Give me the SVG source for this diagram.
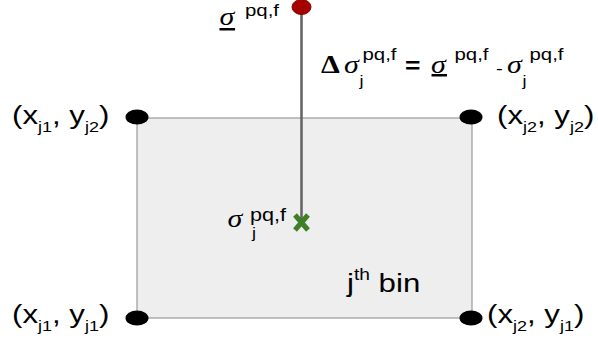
<svg xmlns="http://www.w3.org/2000/svg" width="598" height="347" viewBox="0 0 598 347">
<style>
  text { font-family: "Liberation Sans", Arial, sans-serif; fill: #000; }
  .lbl { font-size: 26px; }
  .sub { font-size: 15px; }
  .sup { font-size: 17px; }
  .sig { font-family: "Liberation Serif", "Times New Roman", serif; font-style: italic; font-size: 25px; }
  .delta { font-family: "Liberation Serif", "Times New Roman", serif; font-weight: bold; font-size: 25px; }
  .corner { fill: #000; }
  .ul { fill: #000; }
</style>
<rect id="bin" x="137" y="118" width="335" height="200" fill="#eeeeee" stroke="#999999" stroke-width="1.2"/>

<g id="connectors">
  <line x1="301.5" y1="8" x2="301.5" y2="222" stroke="#666666" stroke-width="2.6"/>
</g>

<g id="node-sigma-bar">
  <ellipse cx="301.5" cy="7" rx="9.5" ry="7.5" fill="#a50000" stroke="#8a0000" stroke-width="1"/>
  <g transform="scale(1.2 1)">
    <text><tspan class="sig" x="182.9" y="25">σ</tspan><tspan class="sup" x="204.2" y="16.5">pq,f</tspan></text>
    <rect class="ul" x="182.9" y="28" width="13" height="2.5"/>
  </g>
</g>

<g id="node-sigma-j">
  <path d="M295 215 L308 230 M308 215 L295 230" stroke="#3f7f26" stroke-width="5" fill="none"/>
  <g transform="scale(1.2 1)">
    <text><tspan class="sig" x="189.6" y="227">σ</tspan><tspan class="sub" x="210" y="238">j</tspan><tspan style="font-size:18px" x="208.3" y="221">pq,f</tspan></text>
  </g>
</g>

<g id="label-delta">
  <g transform="scale(1.2 1)">
    <text><tspan class="delta" x="267.5" y="73">Δ</tspan><tspan class="sig" x="286.7" y="73">σ</tspan><tspan class="sub" x="299.6" y="86">j</tspan><tspan class="sup" x="302.1" y="60.5">pq,f</tspan><tspan style="font-size:22px;font-weight:bold" x="337.5" y="73">=</tspan><tspan class="sig" x="359.2" y="73">σ</tspan><tspan class="sup" x="378.75" y="60.5">pq,f</tspan><tspan class="sup" x="413.3" y="74">-</tspan><tspan class="sig" x="422.5" y="73">σ</tspan><tspan class="sub" x="435.4" y="86">j</tspan><tspan class="sup" x="441.25" y="60.5">pq,f</tspan></text>
    <rect class="ul" x="359.6" y="74" width="12.9" height="2.5"/>
  </g>
</g>

<g id="node-tl">
  <ellipse class="corner" cx="137" cy="117" rx="11.5" ry="7.5"/>
  <text class="lbl" transform="matrix(1.2 0 0 1 12 124)">(x<tspan class="sub" dy="8">j1</tspan><tspan dy="-8">, y</tspan><tspan class="sub" dy="8">j2</tspan><tspan dy="-8">)</tspan></text>
</g>

<g id="node-tr">
  <ellipse class="corner" cx="471" cy="117" rx="11.5" ry="7.5"/>
  <text class="lbl" transform="matrix(1.2 0 0 1 497 124)">(x<tspan class="sub" dy="8">j2</tspan><tspan dy="-8">, y</tspan><tspan class="sub" dy="8">j2</tspan><tspan dy="-8">)</tspan></text>
</g>

<g id="node-bl">
  <ellipse class="corner" cx="137" cy="318" rx="11.5" ry="7.5"/>
  <text class="lbl" transform="matrix(1.2 0 0 1 12 323)">(x<tspan class="sub" dy="8">j1</tspan><tspan dy="-8">, y</tspan><tspan class="sub" dy="8">j1</tspan><tspan dy="-8">)</tspan></text>
</g>

<g id="node-br">
  <ellipse class="corner" cx="471" cy="318" rx="11.5" ry="7.5"/>
  <text class="lbl" transform="matrix(1.2 0 0 1 487 323)">(x<tspan class="sub" dy="8">j2</tspan><tspan dy="-8">, y</tspan><tspan class="sub" dy="8">j1</tspan><tspan dy="-8">)</tspan></text>
</g>

<g id="label-bin">
  <text class="lbl" transform="matrix(1.2 0 0 1 347 292)">j<tspan style="font-size:16px" dy="-12">th</tspan><tspan dy="12"> bin</tspan></text>
</g>
</svg>
